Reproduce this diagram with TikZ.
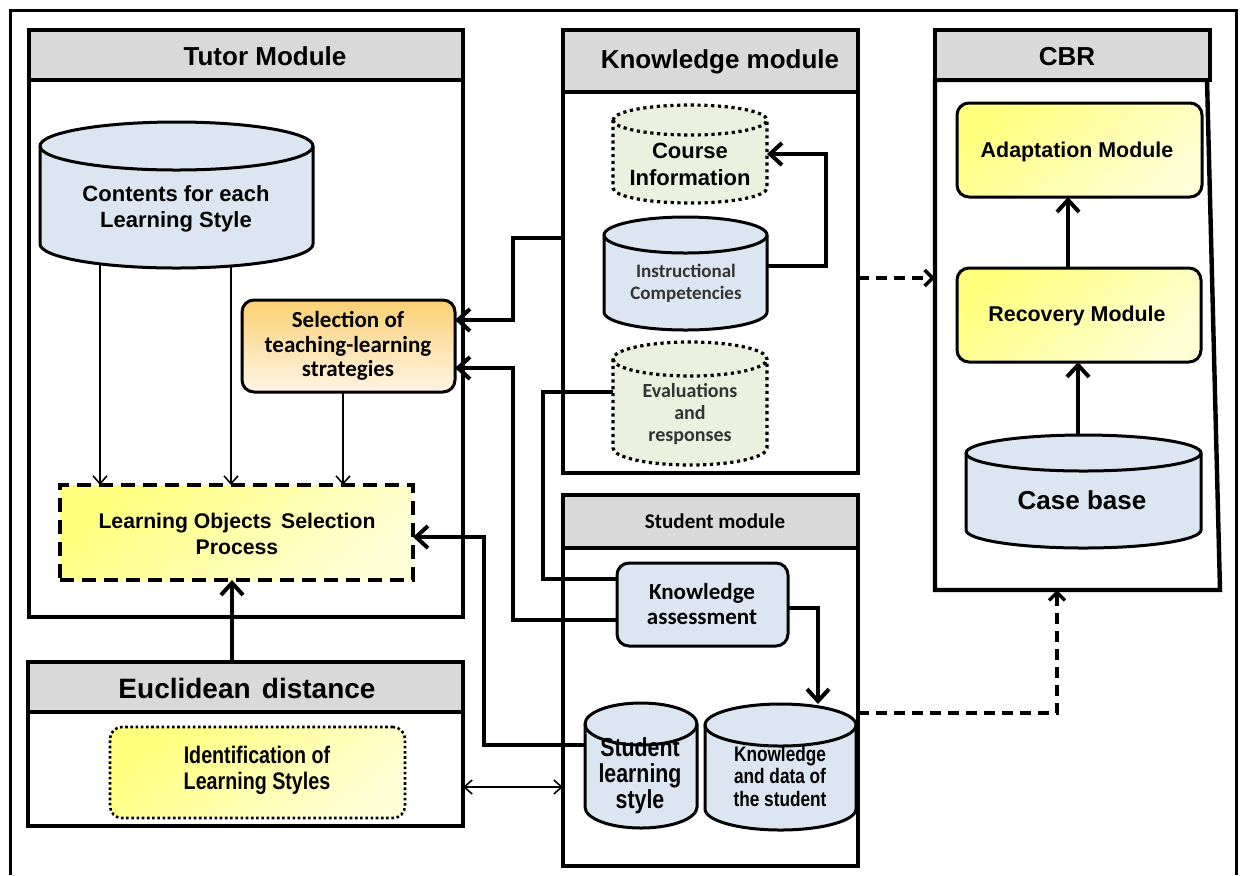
\documentclass[tikz,border=0pt]{standalone}
\usepackage{fontspec}
\setmainfont{Liberation Sans}
\newfontfamily\calfont{Carlito}
\newfontfamily\narrowfont[FakeStretch=0.82]{Liberation Sans}
\usetikzlibrary{arrows.meta,fit,calc}
\definecolor{hdr}{RGB}{217,217,217}
\definecolor{cblue}{RGB}{220,230,242}
\definecolor{cgreen}{RGB}{235,241,222}
\definecolor{ylwA}{RGB}{255,255,125}
\definecolor{ylwB}{RGB}{255,255,215}
\definecolor{orgA}{RGB}{250,208,115}
\definecolor{orgB}{RGB}{255,244,230}
\newcommand\fsz[2]{\fontsize{#1}{#2}\selectfont}
% cylinder outline around a named node: #1 node, #2 style, #3 rx (px), #4 ry (px)
\newcommand\cyl[4]{%
  \path[#2] ([yshift=-#4*0.5pt]#1.north west) -- ([yshift=#4*0.5pt]#1.south west)
    arc[start angle=180,end angle=360,x radius=#3*0.5pt,y radius=#4*0.5pt]
    -- ([yshift=-#4*0.5pt]#1.north east)
    arc[start angle=0,end angle=180,x radius=#3*0.5pt,y radius=#4*0.5pt] -- cycle;
  \path[#2,fill=none] ([yshift=-#4*0.5pt]#1.north west)
    arc[start angle=180,end angle=360,x radius=#3*0.5pt,y radius=#4*0.5pt];}
\begin{document}
\begin{tikzpicture}[x=0.5pt,y=-0.5pt,
  every node/.style={inner sep=0pt,outer sep=0pt,align=center},
  area/.style={fit={#1},inner sep=0pt,outer sep=0pt},
  modbox/.style={draw,line width=2.2pt},
  hdrbox/.style={draw,fill=hdr,line width=2.2pt},
  cylb/.style={draw,fill=cblue,line width=1.5pt},
  cylg/.style={draw,fill=cgreen,line width=1.6pt,dash pattern=on 1.6pt off 1.8pt},
  ybox/.style={draw,line width=1.5pt,rounded corners=6pt,top color=ylwA,bottom color=ylwB,shading angle=40},
  selbox/.style={draw,line width=1.5pt,rounded corners=6pt,top color=orgA,bottom color=orgB},
  losbox/.style={draw,line width=1.8pt,dash pattern=on 7pt off 4pt,top color=ylwA,bottom color=ylwB,shading angle=40},
  identbox/.style={draw,line width=1.3pt,dash pattern=on 1.3pt off 1.3pt,rounded corners=6pt,top color=ylwA,bottom color=ylwB,shading angle=40},
  kabox/.style={draw,fill=cblue,line width=1.5pt,rounded corners=6pt},
  ttl/.style={font=\fsz{13}{15}\bfseries},
  thkarr/.style={line width=2pt,-{Straight Barb[length=6pt,width=11pt]}},
  thkline/.style={line width=2pt},
  thinarr/.style={line width=0.8pt,-{Straight Barb[length=4pt,width=7pt]}},
  thindbl/.style={line width=0.8pt,{Straight Barb[length=4pt,width=7pt]}-{Straight Barb[length=4pt,width=7pt]}},
  dasharr/.style={line width=1.7pt,dash pattern=on 5.5pt off 3.5pt,-{Straight Barb[length=4pt,width=8pt]}}
]
\useasboundingbox (0,0) rectangle (1241,875);
% outer frame
\draw[line width=1.5pt] (10,875) -- (10,10) -- (1236,10) -- (1236,875);

% ---------- Tutor module
\node[modbox,area={(29,30)(463,617)}] (tutor) {};
\node[hdrbox,area={(29,30)(463,80)}] (tutorh) {};
\node[ttl] (tutorT) at (265,56) {Tutor Module};
\node[area={(40,122)(313,268)}] (contents) {};
\cyl{contents}{cylb}{136.5}{24}
\node[font=\fsz{11}{13}\bfseries] (contentsT) at (176,209) {Contents for each\\Learning Style};
\node[selbox,area={(242,300)(455,392)}] (sel) {};
\node[font=\calfont\fsz{11.5}{12.3}\bfseries] (selT) at (348,346) {Selection of\\teaching-learning\\strategies};
\node[losbox,area={(60,485)(413,580)}] (los) {};
\node[font=\fsz{10.6}{13}\bfseries] (losT) at (237,534) {Learning Objects\hspace{0.45em}Selection\\Process};

% ---------- Euclidean distance
\node[modbox,area={(28,662)(463,826)}] (euc) {};
\node[hdrbox,area={(28,662)(463,712)}] (euch) {};
\node[font=\fsz{14}{16}\bfseries] (eucT) at (247,688) {Euclidean\hspace{0.4em}distance};
\node[identbox,area={(110,727)(405,818)}] (ident) {};
\node[font=\narrowfont\fsz{12}{13}\bfseries] (identT) at (257,770) {Identification of\\Learning Styles};

% ---------- Knowledge module
\node[modbox,area={(563,30)(858,473)}] (know) {};
\node[hdrbox,area={(563,30)(858,92)}] (knowh) {};
\node[ttl] (knowT) at (720,62) {Knowledge module};
\node[area={(613,105)(767,203)}] (course) {};
\cyl{course}{cylg}{77}{15}
\node[font=\fsz{11}{13.5}\bfseries] (courseT) at (690,164) {Course\\Information};
\node[area={(604,217)(767,330)}] (ic) {};
\cyl{ic}{cylb}{81.5}{18}
\node[font=\calfont\fsz{9.5}{11}\bfseries,text=black!80] (icT) at (686,283) {Instructional\\Competencies};
\node[area={(613,342)(767,465)}] (ev) {};
\cyl{ev}{cylg}{77}{17}
\node[font=\calfont\fsz{10}{11}\bfseries,text=black!80] (evT) at (690,414) {Evaluations\\and\\responses};

% ---------- Student module
\node[modbox,area={(563,495)(858,866)}] (stud) {};
\node[hdrbox,area={(563,495)(858,548)}] (studh) {};
\node[font=\calfont\fsz{10.5}{12}\bfseries] (studT) at (715,521) {Student module};
\node[kabox,area={(617,563)(788,646)}] (ka) {};
\node[font=\calfont\fsz{11.5}{12.5}\bfseries] (kaT) at (702,604) {Knowledge\\assessment};
\node[area={(585,703)(697,828)}] (sls) {};
\cyl{sls}{cylb}{56}{21}
\node[font=\narrowfont\fsz{13}{13}\bfseries] (slsT) at (640,776) {Student\\learning\\style};
\node[area={(705,704)(856,830)}] (kd) {};
\cyl{kd}{cylb}{75.5}{21}
\node[font=\narrowfont\fsz{10.5}{11.25}\bfseries] (kdT) at (780,776) {Knowledge\\and data of\\the student};

% ---------- CBR
\node[area={(935,30)(1220,590)}] (cbr) {};
\draw[line width=2.2pt] (935,80) -- (1207,80) -- (1220,590) -- (935,590) -- cycle;
\node[hdrbox,area={(935,30)(1210,80)}] (cbrh) {};
\node[ttl] (cbrT) at (1067,57) {CBR};
\node[ybox,area={(957,103)(1202,197)}] (ada) {};
\node[font=\fsz{10.7}{13}\bfseries] (adaT) at (1077,152) {Adaptation Module};
\node[ybox,area={(957,268)(1201,362)}] (rec) {};
\node[font=\fsz{10.7}{13}\bfseries] (recT) at (1077,316) {Recovery Module};
\node[area={(966,435)(1201,548)}] (cb) {};
\cyl{cb}{cylb}{117.5}{18}
\node[font=\fsz{13}{15}\bfseries] (cbT) at (1082,500) {Case base};

% ---------- connectors
\draw[thinarr] ([xshift=-38.25pt,yshift=2pt]contents.south) -- ([xshift=-38.25pt]contents.south |- los.north);
\draw[thinarr] ([xshift=27.25pt,yshift=1pt]contents.south) -- ([xshift=27.25pt]contents.south |- los.north);
\draw[thinarr] ([xshift=-2.75pt]sel.south) -- ([xshift=-2.75pt]sel.south |- los.north);
\draw[thkarr] ([xshift=-2.25pt]los.south |- euc.north) -- ([xshift=-2.25pt]los.south);
\draw[thkarr] ([yshift=3.75pt]ic.east) -- ++(29.5pt,0) |- (course.east);
\draw[thkarr] ([yshift=7pt]know.west) -- ++(-25pt,0) |- ([yshift=13pt]sel.east);
\draw[thkarr] ([yshift=-7.75pt]ka.west) -- ++(-52pt,0) |- ([yshift=-11pt]sel.east);
\draw[thkline] ([yshift=5.75pt]ev.west) -- ++(-35pt,0) |- ([yshift=12.75pt]ka.west);
\draw[thkarr] ([yshift=10.25pt]sls.west) -- ++(-50.5pt,0) |- ([yshift=-2.25pt]los.east);
\draw[thkarr] ([yshift=-1.75pt]ka.east) -| ([xshift=18.75pt]kd.north);
\draw[thkarr] ([xshift=-5.5pt]rec.north) -- ([xshift=-5.5pt]rec.north |- ada.south);
\draw[thkarr] ([xshift=-2.75pt]cb.north) -- ([xshift=-2.75pt]cb.north |- rec.south);
\draw[thindbl] ([yshift=-21.5pt]euc.east) -- ([yshift=-21.5pt]euc.east -| stud.west);
\draw[dasharr] ([yshift=-13.25pt]know.east) -- ([yshift=-13.25pt]know.east -| cbr.west);
\draw[dasharr] ([yshift=-16.25pt]stud.east) -| ([xshift=-10.25pt]cbr.south);
\end{tikzpicture}
\end{document}
